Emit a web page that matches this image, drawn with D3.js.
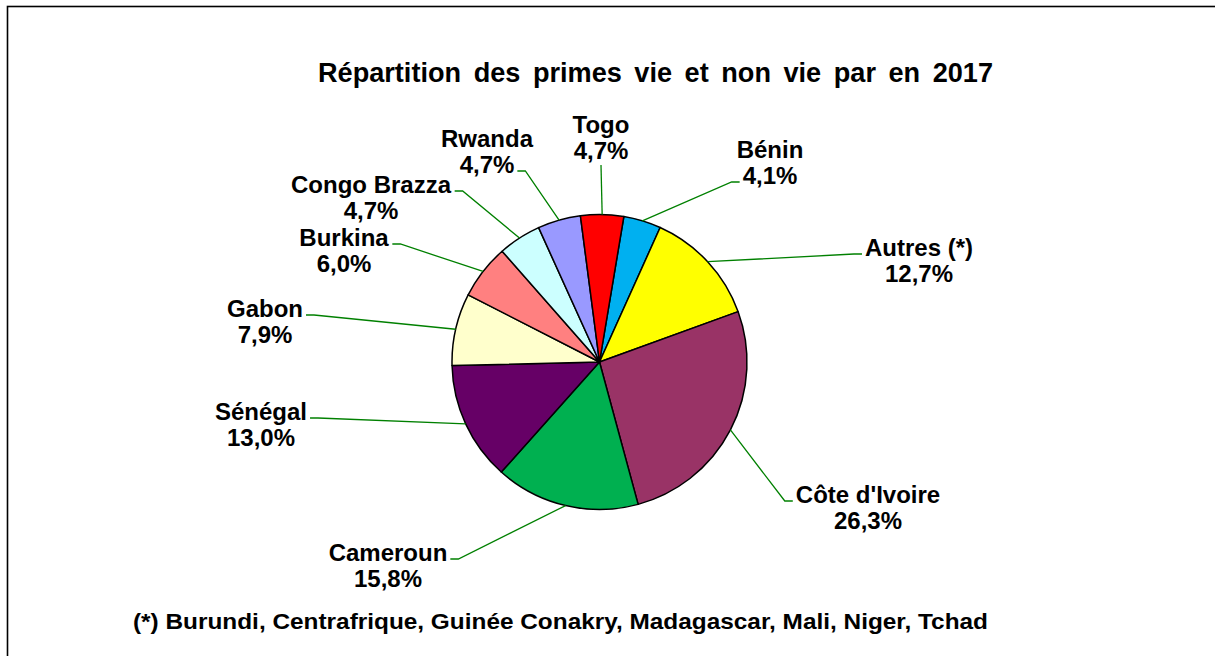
<!DOCTYPE html>
<html>
<head>
<meta charset="utf-8">
<script src="https://cdn.jsdelivr.net/npm/d3@7"></script>
<style>
  body { margin: 0; background: #fff; }
  text { font-family: "Liberation Sans", Arial, sans-serif; font-weight: bold; fill: #000; }
</style>
</head>
<body>
<svg width="1215" height="656"></svg>
<script>

// pays dans l'ordre des parts, en partant du haut et dans le sens horaire
let pays = ['Bénin', 'Autres (*)', "Côte d'Ivoire", 'Cameroun', 'Sénégal',
            'Gabon', 'Burkina', 'Congo Brazza', 'Rwanda', 'Togo'];
let parts = [4.1, 12.7, 26.3, 15.8, 13.0, 7.9, 6.0, 4.7, 4.7, 4.7];
let couleurs = ['#00B0F0', '#FFFF00', '#993366', '#00B050', '#660066',
                '#FFFFCC', '#FF8080', '#CCFFFF', '#9999FF', '#FF0000'];

let titre = 'Répartition des primes vie et non vie par en 2017';
let note = '(*) Burundi, Centrafrique, Guinée Conakry, Madagascar, Mali, Niger, Tchad';

// placement des étiquettes : centre x, ligne de base de la 1re ligne, ligne d'accroche
let etiquettes = [
  { x: 770, y: 158, ligne: 1 },
  { x: 919, y: 256, ligne: 0 },
  { x: 868, y: 503, ligne: 0 },
  { x: 388, y: 561, ligne: 0 },
  { x: 261, y: 420, ligne: 0 },
  { x: 265, y: 317, ligne: 0 },
  { x: 344, y: 246, ligne: 0 },
  { x: 371, y: 193, ligne: 0 },
  { x: 487, y: 147, ligne: 1 },
  { x: 601, y: 133, ligne: 'bas' }
];

let cx = 599.5, cy = 362, rayon = 147.5;
let depart = 9.5 * Math.PI / 180;
let interligne = 26;

let svg = d3.select('svg');

// cadre
svg.append('rect')
   .attr('x', 7.5)
   .attr('y', 6.5)
   .attr('width', 1400)
   .attr('height', 1000)
   .attr('fill', 'none')
   .attr('stroke', '#000')
   .attr('stroke-width', 1.6);

svg.append('text')
   .attr('x', 318)
   .attr('y', 82)
   .attr('font-size', 27)
   .attr('word-spacing', 5)
   .attr('textLength', 675)
   .attr('lengthAdjust', 'spacingAndGlyphs')
   .text(titre);

svg.append('text')
   .attr('x', 133)
   .attr('y', 629)
   .attr('font-size', 22)
   .attr('textLength', 855)
   .attr('lengthAdjust', 'spacingAndGlyphs')
   .text(note);

let pie = d3.pie()
            .sort(null)
            .value(function(d) { return d; })
            .startAngle(depart)
            .endAngle(depart + 2 * Math.PI);

let arc = d3.arc()
            .innerRadius(0)
            .outerRadius(rayon);

let tranches = pie(parts);

let g = svg.append('g')
           .attr('transform', 'translate(' + cx + ',' + cy + ')');

g.selectAll('path')
 .data(tranches)
 .enter()
 .append('path')
 .attr('d', arc)
 .attr('fill', function(d, i) { return couleurs[i]; })
 .attr('stroke', '#000')
 .attr('stroke-width', 1.5)
 .attr('stroke-linejoin', 'round');

let format = function(v) { return d3.format('.1f')(v).replace('.', ',') + '%'; };

tranches.forEach(function(d, i) {
  let e = etiquettes[i];
  let t = svg.append('text')
             .attr('text-anchor', 'middle')
             .attr('font-size', 24);
  t.append('tspan').attr('x', e.x).attr('y', e.y).text(pays[i]);
  t.append('tspan').attr('x', e.x).attr('y', e.y + interligne).text(format(parts[i]));

  // point sur le bord de la tranche
  let milieu = (d.startAngle + d.endAngle) / 2;
  let px = cx + rayon * Math.sin(milieu);
  let py = cy - rayon * Math.cos(milieu);

  let points;
  if (e.ligne == 'bas') {
    points = [[e.x, e.y + interligne + 6], [px, py]];
  } else {
    let b = t.selectAll('tspan').nodes()[e.ligne].getBBox();
    let ly = e.y + interligne * e.ligne - 2;
    if (px > e.x) {
      points = [[b.x + b.width + 3, ly], [b.x + b.width + 11, ly], [px, py]];
    } else {
      points = [[b.x - 3, ly], [b.x - 11, ly], [px, py]];
    }
  }

  svg.append('path')
     .attr('d', d3.line()(points))
     .attr('fill', 'none')
     .attr('stroke', '#008000')
     .attr('stroke-width', 1.3);
});

</script>
</body>
</html>
